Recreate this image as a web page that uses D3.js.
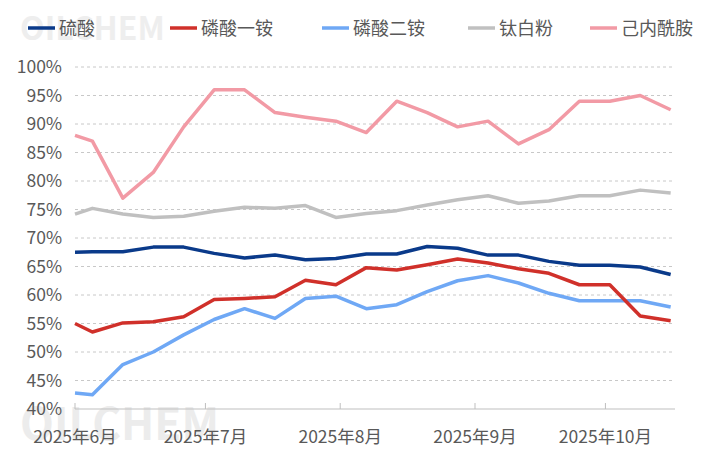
<!DOCTYPE html><html><head><meta charset="utf-8"><script src="https://cdn.jsdelivr.net/npm/d3@7"></script>
<style>body{margin:0;background:#fff}text{font-family:"Noto Sans CJK SC",sans-serif}</style></head><body><svg id="c" width="707" height="469"></svg><script>
const dates=["2025-06-01","2025-06-05","2025-06-12","2025-06-19","2025-06-26","2025-07-03","2025-07-10","2025-07-17","2025-07-24","2025-07-31","2025-08-07","2025-08-14","2025-08-21","2025-08-28","2025-09-04","2025-09-11","2025-09-18","2025-09-25","2025-10-02","2025-10-09","2025-10-16"];
const seriesNames=["硫酸","磷酸一铵","磷酸二铵","钛白粉","己内酰胺"];
const colors=["#0a3a8a","#d0302a","#6fa8f5","#c0c0c0","#f29aa5"];
const liusuan=[67.5,67.6,67.6,68.4,68.4,67.3,66.5,67,66.2,66.4,67.2,67.2,68.5,68.2,67,67,65.9,65.2,65.2,64.9,63.6];
const yiAn=[55,53.5,55.1,55.3,56.2,59.2,59.4,59.7,62.6,61.8,64.8,64.4,65.3,66.3,65.6,64.6,63.8,61.8,61.8,56.3,55.5];
const erAn=[42.8,42.5,47.8,50,53,55.7,57.6,55.9,59.4,59.8,57.6,58.3,60.6,62.5,63.4,62.1,60.3,59,59,59,57.9];
const taibai=[74.2,75.2,74.2,73.6,73.8,74.7,75.4,75.2,75.7,73.6,74.3,74.8,75.8,76.7,77.4,76.1,76.5,77.4,77.4,78.4,77.9];
const neixian=[88,87,77,81.5,89.5,96,96,92,91.2,90.5,88.5,94,92,89.5,90.5,86.5,89,94,94,95,92.5];
const yTicks=[40,45,50,55,60,65,70,75,80,85,90,95,100];
const monthTicks=["2025-06-01","2025-07-01","2025-08-01","2025-09-01","2025-10-01"];
const monthLabels=["2025年6月","2025年7月","2025年8月","2025年9月","2025年10月"];
const all=[liusuan,yiAn,erAn,taibai,neixian];
const p=d3.timeParse("%Y-%m-%d");
const svg=d3.select("#c");
const x=d3.scaleTime().domain([p("2025-06-01"),p("2025-10-17")]).range([75,675]);
const y=d3.scaleLinear().domain([40,100]).range([409,67]);
svg.append("text").attr("x",20).attr("y",40).attr("font-size",32).attr("font-weight","bold").attr("fill","#eeeeee").text("OILCHEM");
svg.append("text").attr("x",20).attr("y",440).attr("font-size",44).attr("font-weight","bold").attr("fill","#ececec").text("OILCHEM");
yTicks.forEach(t=>{
 if(t>40)svg.append("line").attr("x1",75).attr("x2",675).attr("y1",y(t)).attr("y2",y(t)).attr("stroke","#c8c8c8").attr("stroke-dasharray","3,3");
 svg.append("text").attr("x",62).attr("y",y(t)+6).attr("text-anchor","end").attr("font-size",17.5).attr("fill","#595959").text(t+"%");
});
svg.append("line").attr("x1",75).attr("x2",675).attr("y1",409).attr("y2",409).attr("stroke","#bfbfbf");
monthTicks.forEach((m,i)=>{const xx=x(p(m));
 svg.append("line").attr("x1",xx).attr("x2",xx).attr("y1",403).attr("y2",409).attr("stroke","#bfbfbf");
 svg.append("text").attr("x",xx).attr("y",443).attr("text-anchor","middle").attr("font-size",17.5).attr("fill","#595959").text(monthLabels[i]);});
const line=d3.line().x((d,i)=>x(p(dates[i]))).y(d=>y(d));
[3,4,2,1,0].forEach(k=>svg.append("path").attr("d",line(all[k])).attr("fill","none").attr("stroke",colors[k]).attr("stroke-width",3.5).attr("stroke-linejoin","round"));
const lx=[28,170,322,468,590];
seriesNames.forEach((n,i)=>{
 svg.append("line").attr("x1",lx[i]).attr("x2",lx[i]+27).attr("y1",28).attr("y2",28).attr("stroke",colors[i]).attr("stroke-width",3.5);
 svg.append("text").attr("x",lx[i]+31).attr("y",35).attr("font-size",18).attr("fill","#595959").text(n);});
</script></body></html>
